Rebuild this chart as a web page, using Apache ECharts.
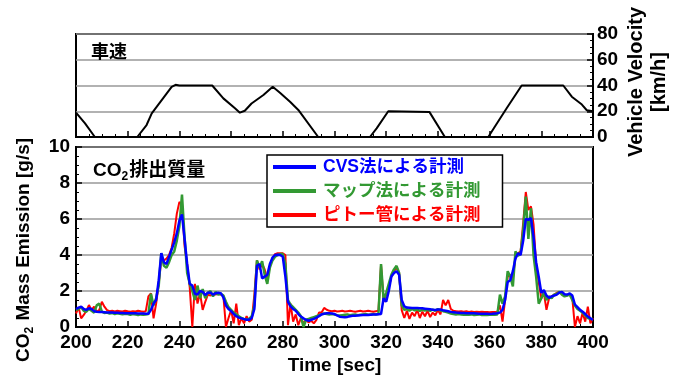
<!DOCTYPE html>
<html><head><meta charset="utf-8">
<script src="https://cdn.jsdelivr.net/npm/echarts@6/dist/echarts.min.js"></script>
<style>html,body{margin:0;padding:0;background:#fff}#c{width:682px;height:381px}</style>
</head><body><div id="c"></div>
<script>
// ---- data ----
const timeMin = 200, timeMax = 400;
const xTicks = [200, 220, 240, 260, 280, 300, 320, 340, 360, 380, 400];
const velTicks = [0, 20, 40, 60, 80];
const co2Ticks = [0, 2, 4, 6, 8, 10];

// vehicle velocity polyline [sec], [km/h]
const velTime  = [200, 203.5, 207.3, 223.7, 227.3, 229.3, 237, 238.5, 240, 252.7, 257, 261.5, 263.4, 265.3, 267.9, 272.5, 276.1, 278.9, 282.8, 286, 293.7, 313.7, 316.3, 320.8, 336.7, 342.7, 359.5, 362, 366.6, 372.4, 388.5, 391.8, 395.7, 397.6, 400];
const velValue = [19,  10.6,  0,     0,     9.3,   18.4,  39,  40.5,  40,  40,    30,  22.3,  18.9,  20.4,  26,    32.6,  39,    34.4,  27.4,  21,  0,     0,     6.7,   20,    19.5,  0,     0,     8,   22.3,  40,    40,    31.3,  25.2,  20.8,  20];

// CO2 mass emission, one sample per second from 200 s to 400 s [g/s]
const co2Start = 200, co2Step = 1;
const cvsValues = [
 1.0,1.08,1.13,1.0,0.95,1.04,1.0,0.88,0.85,0.84,
 0.83,0.82,0.81,0.8,0.8,0.79,0.79,0.78,0.78,0.77,
 0.77,0.76,0.76,0.76,0.75,0.75,0.75,0.74,0.74,0.95,
 1.3,1.5,2.6,4.1,3.6,3.5,3.9,4.3,4.7,5.2,
 5.9,6.25,4.9,3.5,2.4,2.3,1.85,1.8,2.0,1.95,
 1.78,1.9,1.92,1.8,1.88,1.9,1.88,1.65,1.2,1.0,
 0.88,0.72,0.6,0.52,0.48,0.44,0.4,0.4,0.5,1.0,
 3.4,3.5,2.7,2.8,2.9,3.5,3.85,4.0,4.02,4.0,
 3.9,2.8,1.4,1.15,1.0,0.9,0.72,0.58,0.48,0.4,
 0.35,0.4,0.45,0.52,0.6,0.7,0.74,0.76,0.76,0.75,
 0.72,0.64,0.57,0.55,0.54,0.56,0.6,0.62,0.63,0.64,
 0.65,0.66,0.67,0.67,0.68,0.69,0.7,0.71,0.72,1.6,
 1.4,2.0,2.8,3.0,3.1,2.9,1.5,1.15,1.08,1.07,
 1.06,1.05,1.05,1.04,1.04,1.02,1.0,0.98,0.96,0.94,
 0.97,0.97,0.93,0.9,0.87,0.84,0.82,0.8,0.79,0.78,
 0.78,0.77,0.77,0.76,0.76,0.75,0.74,0.74,0.73,0.73,
 0.72,0.73,0.75,0.77,0.8,0.95,1.5,2.5,2.6,3.1,
 3.8,4.1,4.0,4.8,6.0,5.95,6.05,5.0,3.6,2.8,
 1.9,2.05,1.75,1.62,1.7,1.75,1.8,1.92,1.95,1.82,
 1.8,1.87,1.75,1.25,1.1,0.95,0.85,0.72,0.58,0.48,
 0.4];
const mapValues = [
 0.95,1.0,1.1,0.9,0.85,1.0,0.9,0.8,1.2,1.3,
 0.85,0.78,0.8,0.75,0.78,0.72,0.76,0.74,0.7,0.74,
 0.72,0.68,0.72,0.7,0.66,0.7,0.68,0.7,0.72,1.85,
 1.2,1.6,2.3,4.1,3.4,3.3,3.6,4.0,4.2,4.8,
 5.6,7.35,5.0,3.0,2.4,2.0,1.5,2.3,1.6,2.1,
 1.6,1.9,2.0,1.7,1.95,1.8,1.85,1.75,1.4,1.1,
 0.95,0.8,0.7,0.6,0.5,0.45,0.42,0.45,0.6,1.2,
 3.7,3.3,3.65,2.9,2.4,3.3,3.7,3.9,4.0,4.05,
 4.05,3.5,1.5,1.25,1.1,0.95,0.8,0.6,0.0,0.4,
 0.45,0.5,0.55,0.6,0.65,0.7,0.75,0.72,0.7,0.72,
 0.7,0.66,0.64,0.66,0.68,0.7,0.66,0.68,0.7,0.66,
 0.68,0.7,0.72,0.68,0.7,0.72,0.7,0.72,3.5,1.5,
 1.9,2.4,2.9,3.2,3.4,3.0,1.2,0.95,1.0,0.9,
 1.0,0.92,0.98,0.9,0.96,0.92,0.95,0.9,0.96,0.9,
 1.0,0.92,0.88,0.85,0.8,0.75,0.72,0.7,0.72,0.7,
 0.68,0.7,0.68,0.7,0.66,0.68,0.7,0.66,0.68,0.66,
 0.68,0.7,0.68,0.7,1.8,1.3,1.7,3.1,2.8,2.25,
 4.2,3.95,4.1,5.4,7.25,4.9,6.6,4.0,2.8,1.3,
 1.6,1.9,1.5,1.7,1.6,1.8,1.85,1.95,1.8,1.7,
 1.75,1.8,1.5,1.2,1.0,0.9,0.8,0.65,0.5,0.45,
 0.45];
const pitotValues = [
 0.75,1.1,0.48,0.67,0.9,1.22,0.94,1.13,0.85,0.94,
 1.4,1.13,0.94,0.88,0.9,0.86,0.9,0.88,0.86,0.9,
 0.87,0.85,0.88,0.86,0.9,0.87,0.85,0.88,1.7,1.87,
 0.48,1.3,2.4,3.8,3.7,3.8,4.0,4.4,5.2,6.3,
 6.95,6.8,4.5,3.5,2.2,0.0,2.4,1.3,1.87,0.95,
 1.4,1.8,1.75,1.85,1.8,1.85,1.8,1.75,0.0,0.5,
 0.94,0.2,1.3,0.1,0.5,0.2,0.6,0.3,0.4,1.8,
 3.7,3.2,3.5,3.2,2.6,3.4,3.8,4.05,4.1,4.1,
 4.1,4.0,0.1,1.3,0.3,0.7,0.1,0.5,0.2,0.4,
 0.25,0.35,0.2,0.4,0.8,0.8,1.06,0.96,0.9,0.88,
 0.9,0.86,0.88,0.9,0.86,0.88,0.9,0.87,0.85,0.88,
 0.9,0.86,0.88,0.9,0.87,0.85,0.88,0.9,3.45,1.4,
 1.8,2.2,2.8,3.1,3.3,3.0,0.94,0.5,0.9,0.45,
 0.8,0.6,0.95,0.5,0.85,0.6,0.9,0.55,0.8,0.65,
 0.95,0.7,1.5,1.2,1.5,1.0,0.9,0.88,0.86,0.88,
 0.85,0.87,0.84,0.86,0.84,0.85,0.83,0.85,0.83,0.84,
 0.82,0.84,0.83,0.85,1.2,0.3,1.5,2.8,2.9,2.7,
 3.9,4.1,4.2,5.8,7.5,6.5,6.7,5.7,3.5,2.5,
 1.6,1.9,0.95,1.6,1.7,1.8,1.9,1.95,1.85,1.8,
 1.75,1.85,1.6,0.0,0.6,0.2,0.8,0.3,1.13,0.2,
 0.5];

const seriesNames = ['CVS法による計測', 'マップ法による計測', 'ピトー管による計測'];
const seriesColors = ['#0000ff', '#339933', '#ff0000'];

// ---- build ----
const FONT = '"Liberation Sans", Arial, "Noto Sans CJK JP", sans-serif';
const pairs = (ts, vs) => vs.map((v, i) => [ts[i], v]);
const onGrid = vs => vs.map((v, i) => [co2Start + i * co2Step, v]);

const labelStyle = { color: '#000', fontSize: 19, fontWeight: 'bold', fontFamily: FONT };
const axisLine = { show: true, lineStyle: { color: '#000', width: 2 } };
const tick = { show: true, inside: true, length: 6, lineStyle: { color: '#000', width: 1.5 } };
const minor = { show: true, splitNumber: 4, length: 3, lineStyle: { color: '#000', width: 1 } };
const split = { show: true, lineStyle: { color: '#999', width: 1.5 } };
const rich = {
  a: { fontSize: 19, fontWeight: 'bold', fontFamily: FONT, color: '#000', lineHeight: 24 },
  b: { fontSize: 12, fontWeight: 'bold', fontFamily: FONT, color: '#000', lineHeight: 24, verticalAlign: 'bottom', padding: [0, 1, 0, 0] }
};

const chart = echarts.init(document.getElementById('c'), null, { renderer: 'canvas' });
chart.setOption({
  animation: false,
  backgroundColor: '#fff',
  grid: [
    { left: 76, right: 89, top: 34, height: 103, show: true, borderColor: '#000', borderWidth: 2, backgroundColor: 'transparent' },
    { left: 76, right: 89, top: 147, height: 180, show: true, borderColor: '#000', borderWidth: 2, backgroundColor: 'transparent' }
  ],
  title: [
    { text: '車速', left: 86, top: 39, textStyle: { fontSize: 18, fontWeight: 'bold', fontFamily: FONT, color: '#000' } },
    { text: '{a|CO}{b|2}{a|排出質量}', left: 88, top: 154, textStyle: { rich: rich } }
  ],
  legend: {
    orient: 'vertical', left: 267, top: 155,
    icon: 'rect', itemWidth: 43, itemHeight: 4, itemGap: 6,
    padding: [3, 22, 3, 6],
    borderColor: '#000', borderWidth: 1.5, backgroundColor: '#fff',
    selectedMode: false,
    textStyle: { fontSize: 17.5, fontWeight: 'bold', fontFamily: FONT, lineHeight: 18, padding: [0, 0, 0, 2] },
    data: seriesNames.map((n, i) => ({ name: n, textStyle: { color: seriesColors[i] } }))
  },
  xAxis: [
    { type: 'value', gridIndex: 0, min: timeMin, max: timeMax, interval: xTicks[1] - xTicks[0],
      axisLine: axisLine, axisTick: tick, minorTick: minor, axisLabel: { show: false }, splitLine: { show: false } },
    { type: 'value', gridIndex: 1, min: timeMin, max: timeMax, interval: xTicks[1] - xTicks[0],
      axisLine: axisLine, axisTick: tick, minorTick: minor, splitLine: { show: false },
      axisLabel: Object.assign({ margin: 6 }, labelStyle),
      name: 'Time [sec]', nameLocation: 'middle', nameGap: 29,
      nameTextStyle: { fontSize: 19, fontWeight: 'bold', fontFamily: FONT, color: '#000' } }
  ],
  yAxis: [
    { type: 'value', gridIndex: 0, position: 'right', min: velTicks[0], max: velTicks[velTicks.length - 1], interval: velTicks[1] - velTicks[0],
      axisLine: axisLine, axisTick: tick, minorTick: minor, splitLine: split,
      axisLabel: Object.assign({ margin: 4 }, labelStyle) },
    { type: 'value', gridIndex: 1, position: 'left', min: co2Ticks[0], max: co2Ticks[co2Ticks.length - 1], interval: co2Ticks[1] - co2Ticks[0],
      axisLine: axisLine, axisTick: tick, minorTick: minor, splitLine: split,
      axisLabel: Object.assign({ margin: 6 }, labelStyle) }
  ],
  graphic: [
    { type: 'text', x: 24, y: 250, rotation: Math.PI / 2,
      style: { text: '{a|CO}{b|2}{a| Mass Emission [g/s]}', rich: rich, align: 'center', verticalAlign: 'middle' } },
    { type: 'text', x: 648, y: 82, rotation: Math.PI / 2,
      style: { text: 'Vehicle Velocity\n[km/h]', align: 'center', verticalAlign: 'middle',
        font: 'bold 20px ' + FONT, lineHeight: 23, fill: '#000' } }
  ],
  series: [
    { type: 'line', name: 'velocity', xAxisIndex: 0, yAxisIndex: 0, data: pairs(velTime, velValue),
      showSymbol: false, lineStyle: { color: '#000', width: 2 }, itemStyle: { color: '#000' } },
    { type: 'line', name: seriesNames[2], xAxisIndex: 1, yAxisIndex: 1, data: onGrid(pitotValues),
      showSymbol: false, lineStyle: { color: seriesColors[2], width: 2 }, itemStyle: { color: seriesColors[2] } },
    { type: 'line', name: seriesNames[1], xAxisIndex: 1, yAxisIndex: 1, data: onGrid(mapValues),
      showSymbol: false, lineStyle: { color: seriesColors[1], width: 2.5 }, itemStyle: { color: seriesColors[1] } },
    { type: 'line', name: seriesNames[0], xAxisIndex: 1, yAxisIndex: 1, data: onGrid(cvsValues),
      showSymbol: false, lineStyle: { color: seriesColors[0], width: 2.5 }, itemStyle: { color: seriesColors[0] } }
  ]
});
</script></body></html>
